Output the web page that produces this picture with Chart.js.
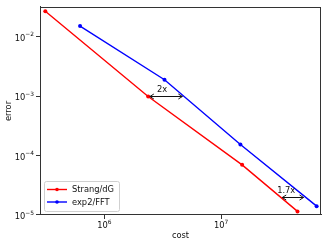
<!DOCTYPE html>
<html>
<head>
<meta charset="utf-8">
<script src="https://cdn.jsdelivr.net/npm/chart.js@4"></script>
<style>
html,body{margin:0;padding:0;background:#fff;}
#wrap{width:327px;height:245px;}
</style>
</head>
<body>
<div id="wrap"><canvas id="c" width="327" height="245"></canvas></div>
<script>
// ---- data ----
const seriesLabels = ['Strang/dG', 'exp2/FFT'];
const strangCost = [3.12e5, 2.37e6, 1.51e7, 4.5e7];
const strangError = [0.0271, 9.9e-4, 7.0e-5, 1.15e-5];
const expCost = [6.19e5, 3.27e6, 1.46e7, 6.56e7];
const expError = [0.01524, 1.9e-3, 1.54e-4, 1.41e-5];

const xTickValues = [1e6, 1e7];
const xTickBase = ['10', '10'];
const xTickExp = ['6', '7'];
const yTickValues = [1e-5, 1e-4, 1e-3, 1e-2];
const yTickBase = ['10', '10', '10', '10'];
const yTickExp = ['\u22125', '\u22124', '\u22123', '\u22122'];

const arrowLabels = ['2x', '1.7x'];
const arrowFromCost = [2.45e6, 3.33e7];
const arrowToCost = [4.65e6, 5.07e7];
const arrowError = [1.0e-3, 2.0e-5];
const arrowTextCost = [3.12e6, 3.6e7];
const arrowTextError = [1.29e-3, 2.6e-5];

const FONT = 'DejaVu Sans';
const FS = 8.3;
const FSE = 5.9;

const frame = {
  id: 'frame',
  afterDatasetsDraw(chart) {
    const {ctx, chartArea: a} = chart;
    ctx.save();
    ctx.strokeStyle = '#333';
    ctx.lineWidth = 1;
    ctx.strokeRect(Math.round(a.left) + 0.5, Math.round(a.top) + 0.5,
                   Math.round(a.right - a.left) - 1, Math.round(a.bottom - a.top) - 1);
    ctx.restore();
  }
};

const tickText = {
  id: 'tickText',
  afterDraw(chart) {
    const {ctx, chartArea: a} = chart;
    const xs = chart.scales.x, ys = chart.scales.y;
    ctx.save();
    ctx.fillStyle = '#111';
    ctx.textBaseline = 'alphabetic';
    // y axis labels
    yTickValues.forEach((v, i) => {
      const py = ys.getPixelForValue(v);
      const xr = a.left - 6;
      ctx.font = FSE + 'px "' + FONT + '"';
      const ew = ctx.measureText(yTickExp[i]).width;
      ctx.textAlign = 'right';
      ctx.fillText(yTickExp[i], xr, py - 0.5);
      ctx.font = FS + 'px "' + FONT + '"';
      ctx.fillText(yTickBase[i], xr - ew, py + 4);
    });
    // x axis labels
    xTickValues.forEach((v, i) => {
      const px = xs.getPixelForValue(v);
      ctx.font = FS + 'px "' + FONT + '"';
      const bw = ctx.measureText(xTickBase[i]).width;
      ctx.font = FSE + 'px "' + FONT + '"';
      const ew = ctx.measureText(xTickExp[i]).width;
      const x0 = px - (bw + ew) / 2;
      const base = a.bottom + 13;
      ctx.textAlign = 'left';
      ctx.fillText(xTickExp[i], x0 + bw, base - 4.5);
      ctx.font = FS + 'px "' + FONT + '"';
      ctx.fillText(xTickBase[i], x0, base);
    });
    ctx.restore();
  }
};

const annot = {
  id: 'annot',
  afterDatasetsDraw(chart) {
    const {ctx} = chart;
    const xs = chart.scales.x, ys = chart.scales.y;
    ctx.save();
    ctx.strokeStyle = '#111';
    ctx.fillStyle = '#111';
    ctx.lineWidth = 1;
    for (let i = 0; i < arrowLabels.length; i++) {
      const x1 = xs.getPixelForValue(arrowFromCost[i]);
      const x2 = xs.getPixelForValue(arrowToCost[i]);
      const y = Math.round(ys.getPixelForValue(arrowError[i])) + 0.5;
      ctx.beginPath();
      ctx.moveTo(x1, y); ctx.lineTo(x2, y);
      ctx.stroke();
      const hl = 4, hw = 2.5;
      ctx.beginPath();
      ctx.moveTo(x1 + hl, y - hw); ctx.lineTo(x1, y); ctx.lineTo(x1 + hl, y + hw);
      ctx.moveTo(x2 - hl, y - hw); ctx.lineTo(x2, y); ctx.lineTo(x2 - hl, y + hw);
      ctx.stroke();
      ctx.font = FS + 'px "' + FONT + '"';
      ctx.textAlign = 'center';
      ctx.textBaseline = 'middle';
      ctx.fillText(arrowLabels[i], xs.getPixelForValue(arrowTextCost[i]), ys.getPixelForValue(arrowTextError[i]));
    }
    ctx.restore();
  }
};

const legendBox = {
  id: 'legendBox',
  afterDraw(chart) {
    const {ctx, chartArea: a} = chart;
    const pad = 4;
    const boxW = 75, rowH = 12.5, boxH = 30;
    const bx = a.left + pad, by = a.bottom - pad - boxH;
    ctx.save();
    ctx.fillStyle = 'rgba(255,255,255,0.8)';
    ctx.strokeStyle = '#d0d0d0';
    ctx.lineWidth = 1;
    ctx.beginPath();
    ctx.roundRect(Math.round(bx) + 0.5, Math.round(by) + 0.5, boxW, boxH, 2);
    ctx.fill(); ctx.stroke();
    ctx.font = FS + 'px "' + FONT + '"';
    ctx.textBaseline = 'middle';
    ctx.textAlign = 'left';
    chart.data.datasets.forEach((ds, i) => {
      const cy = by + 8.5 + i * rowH;
      ctx.strokeStyle = ds.borderColor;
      ctx.lineWidth = 1.4;
      ctx.beginPath();
      ctx.moveTo(bx + 3, cy); ctx.lineTo(bx + 23, cy);
      ctx.stroke();
      ctx.fillStyle = ds.borderColor;
      ctx.beginPath();
      ctx.arc(bx + 13, cy, 1.8, 0, Math.PI * 2);
      ctx.fill();
      ctx.fillStyle = '#111';
      ctx.fillText(ds.label, bx + 28, cy + 0.5);
    });
    ctx.restore();
  }
};

function mkData(xs, ys) { return xs.map((x, i) => ({x: x, y: ys[i]})); }

new Chart(document.getElementById('c'), {
  type: 'line',
  data: {
    datasets: [
      {label: seriesLabels[0], data: mkData(strangCost, strangError), borderColor: '#ff0000', backgroundColor: '#ff0000',
       borderWidth: 1.4, pointRadius: 2, pointBorderWidth: 0, fill: false, tension: 0},
      {label: seriesLabels[1], data: mkData(expCost, expError), borderColor: '#0000ff', backgroundColor: '#0000ff',
       borderWidth: 1.4, pointRadius: 2, pointBorderWidth: 0, fill: false, tension: 0}
    ]
  },
  options: {
    responsive: false,
    animation: false,
    layout: {padding: {left: 0, right: 6, top: 5, bottom: 0}},
    plugins: {legend: {display: false}, tooltip: {enabled: false}},
    scales: {
      x: {
        type: 'logarithmic', min: 2.81e5, max: 7.15e7,
        afterBuildTicks(s) { s.ticks = xTickValues.map(v => ({value: v})); },
        afterFit(s) { s.height = 30; },
        ticks: {autoSkip: false, maxRotation: 0, padding: 1, font: {family: FONT, size: FS}, callback() { return ''; }},
        grid: {display: true, drawOnChartArea: false, drawTicks: true, tickLength: 4, color: '#333'},
        border: {display: true, color: '#333'},
        title: {display: true, text: 'cost', color: '#111', font: {family: FONT, size: FS}, padding: {top: 0, bottom: 4}}
      },
      y: {
        type: 'logarithmic', min: 1e-5, max: 0.032,
        afterBuildTicks(s) { s.ticks = yTickValues.map(v => ({value: v})); },
        afterFit(s) { s.width = 40; },
        ticks: {autoSkip: false, padding: 2, font: {family: FONT, size: FS}, callback() { return ''; }},
        grid: {display: true, drawOnChartArea: false, drawTicks: true, tickLength: 4, color: '#333'},
        border: {display: true, color: '#333'},
        title: {display: true, text: 'error', color: '#111', font: {family: FONT, size: FS}, padding: {top: 4, bottom: 0}}
      }
    }
  },
  plugins: [frame, annot, legendBox, tickText]
});
</script>
</body>
</html>
